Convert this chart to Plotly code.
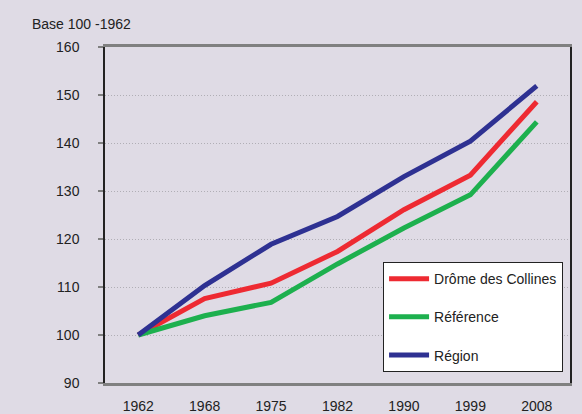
# Évolution de la population - base 100 en 1962
import plotly.graph_objects as go

annees = ["1962", "1968", "1975", "1982", "1990", "1999", "2008"]

drome_collines = [100, 107.6, 110.8, 117.4, 126.1, 133.3, 148.6]
reference = [100, 104.0, 106.8, 114.8, 122.3, 129.2, 144.4]
region = [100, 110.3, 118.9, 124.7, 133.0, 140.4, 151.9]

y_ticks = [90, 100, 110, 120, 130, 140, 150, 160]

FOND = "#DFDBE5"
POLICE = "Liberation Sans Narrow, Arial Narrow, Liberation Sans, sans-serif"

series = [
    ("Drôme des Collines", drome_collines, "#EE2A32"),
    ("Référence", reference, "#1DB04E"),
    ("Région", region, "#2E3192"),
]

fig = go.Figure()
for nom, valeurs, couleur in series:
    fig.add_trace(go.Scatter(
        x=annees, y=valeurs, name=nom, mode="lines",
        legendgroup=nom,
        line=dict(color=couleur, width=5),
    ))

fig.update_layout(
    width=582, height=414,
    paper_bgcolor=FOND, plot_bgcolor=FOND,
    margin=dict(l=105, r=12, t=47, b=31, autoexpand=False),
    font=dict(family=POLICE, size=14, color="#222222"),
    showlegend=True,
    legend=dict(
        x=0.598, y=0.36, xanchor="left", yanchor="top",
        bgcolor="white", bordercolor="#222222", borderwidth=1,
        font=dict(size=14, color="#222222"),
        tracegroupgap=17, itemwidth=40,
    ),
    annotations=[dict(
        text="Base 100 -1962", showarrow=False,
        xref="paper", yref="paper", x=-0.161, y=1.068,
        xanchor="left", yanchor="middle",
        font=dict(family=POLICE, size=14, color="#222222"),
    )],
)

fig.update_xaxes(
    type="category", range=[-0.5, 6.5], showgrid=False, automargin=False,
    showline=True, linecolor="#808080", linewidth=2.5, mirror=True,
    ticks="", tickfont=dict(size=14), ticklabelstandoff=8,
)
fig.update_yaxes(
    range=[90, 160], tickvals=y_ticks, automargin=False,
    showgrid=True, gridcolor="#B0AEB5", griddash="1px,2px", gridwidth=1,
    showline=True, linecolor="#222222", linewidth=1.5, mirror=True,
    ticks="outside", ticklen=5, tickcolor="#808080", tickwidth=2,
    zeroline=False, tickfont=dict(size=14), ticklabelstandoff=16,
)

# la page a une marge de 8px par défaut : on la retire
fig.write_html(
    "out.html",
    config={"displayModeBar": False},
    post_script="document.body.style.margin='0';document.body.style.overflow='hidden';",
)
